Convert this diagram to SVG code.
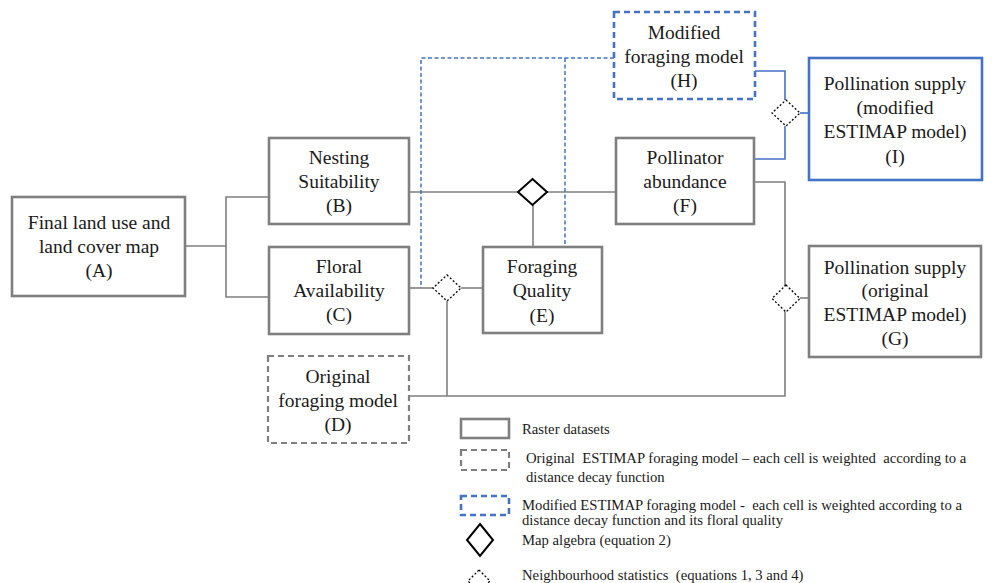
<svg xmlns="http://www.w3.org/2000/svg" width="992" height="583" viewBox="0 0 992 583" font-family="'Liberation Serif', 'Times New Roman', 'DejaVu Serif', serif">
<style>
text{font-family:'Liberation Serif','Times New Roman','DejaVu Serif',serif;fill:#1a1a1a;text-anchor:middle}
.n{font-size:19.5px}
.lg{font-size:14.7px;text-anchor:start;white-space:pre}
.box{fill:#fff;stroke:#7f7f7f;stroke-width:2.6}
.dbox{fill:#fff;stroke:#7f7f7f;stroke-width:2.2;stroke-dasharray:6 4}
.bbox{fill:#fff;stroke:#4472c4;stroke-width:2.6}
.bdbox{fill:#fff;stroke:#4472c4;stroke-width:2.6;stroke-dasharray:6 4}
.ln{fill:none;stroke:#7f7f7f;stroke-width:1.6}
.bl{fill:none;stroke:#4472c4;stroke-width:1.6}
.bd{fill:none;stroke:#4472c4;stroke-width:1.5;stroke-dasharray:4 2.5}
.ma{fill:#fff;stroke:#000;stroke-width:2}
.ns{fill:#fff;stroke:#000;stroke-width:1.3;stroke-dasharray:2 2}
</style>
<rect width="992" height="583" fill="#fff"/>
<g id="connectors">
<polyline class="ln" points="185,246 226,246"/>
<polyline class="ln" points="269,197 226,197 226,297 269,297"/>
<polyline class="ln" points="409,192 518,192"/>
<polyline class="ln" points="547,192 616,192"/>
<polyline class="ln" points="533,205 533,247"/>
<polyline class="ln" points="409,288 433,288"/>
<polyline class="ln" points="461,288 483,288"/>
<polyline class="ln" points="447,301 447,396"/>
<polyline class="ln" points="409,396 785,396 785,182 754,182"/>
<polyline class="ln" points="800,298 809,298"/>
<polyline class="bl" points="755,71 785,71 785,100"/>
<polyline class="bl" points="754,159 785,159 785,126"/>
<polyline class="bl" points="800,113 809,113"/>
<polyline class="bd" points="614,58 421,58 421,288"/>
<polyline class="bd" points="565,58 565,247"/>
<polygon class="ma" points="532.5,179 547,192 532.5,205 518,192"/>
<polygon class="ns" points="447,275 461,288 447,301 433,288"/>
<polygon class="ns" points="786,285 800,298.5 786,312 772,298.5"/>
<polygon class="ns" points="786,100 800,113 786,126 772,113"/>
</g>
<g id="A">
<rect class="box" x="12" y="197" width="173" height="99"/>
<text class="n" x="99" y="229">Final land use and</text>
<text class="n" x="99" y="253">land cover map</text>
<text class="n" x="99" y="277">(A)</text>
</g>
<g id="B">
<rect class="box" x="269" y="138" width="140" height="86"/>
<text class="n" x="339" y="164">Nesting</text>
<text class="n" x="339" y="188">Suitability</text>
<text class="n" x="339" y="212">(B)</text>
</g>
<g id="C">
<rect class="box" x="269" y="247" width="140" height="87"/>
<text class="n" x="339" y="273">Floral</text>
<text class="n" x="339" y="297">Availability</text>
<text class="n" x="339" y="321">(C)</text>
</g>
<g id="D">
<rect class="dbox" x="268" y="356" width="141" height="87"/>
<text class="n" x="338" y="383">Original</text>
<text class="n" x="338" y="407">foraging model</text>
<text class="n" x="338" y="431">(D)</text>
</g>
<g id="E">
<rect class="box" x="483" y="247" width="119" height="86"/>
<text class="n" x="542" y="273">Foraging</text>
<text class="n" x="542" y="297">Quality</text>
<text class="n" x="542" y="322">(E)</text>
</g>
<g id="F">
<rect class="box" x="616" y="138" width="138" height="86"/>
<text class="n" x="685" y="164">Pollinator</text>
<text class="n" x="685" y="188">abundance</text>
<text class="n" x="685" y="212">(F)</text>
</g>
<g id="G">
<rect class="box" x="809" y="246" width="172" height="111"/>
<text class="n" x="895" y="274">Pollination supply</text>
<text class="n" x="895" y="297">(original</text>
<text class="n" x="895" y="321">ESTIMAP model)</text>
<text class="n" x="895" y="345">(G)</text>
</g>
<g id="H">
<rect class="bdbox" x="614" y="12" width="141" height="87"/>
<text class="n" x="684" y="39">Modified</text>
<text class="n" x="684" y="63">foraging model</text>
<text class="n" x="684" y="87">(H)</text>
</g>
<g id="I">
<rect class="bbox" x="809" y="58" width="173" height="122"/>
<text class="n" x="895" y="90">Pollination supply</text>
<text class="n" x="895" y="114">(modified</text>
<text class="n" x="895" y="138">ESTIMAP model)</text>
<text class="n" x="895" y="163">(I)</text>
</g>
<g id="legend">
<rect class="box" x="461" y="419" width="48" height="19" stroke-width="2"/>
<text class="lg" x="522" y="434">Raster datasets</text>
<rect class="dbox" x="461" y="450" width="48" height="20" stroke-width="2" stroke-dasharray="5 3"/>
<text class="lg" x="526" y="463" xml:space="preserve">Original  ESTIMAP foraging model – each cell is weighted  according to a</text>
<text class="lg" x="526" y="482">distance decay function</text>
<rect class="bdbox" x="461" y="496" width="48" height="19" stroke-width="2" stroke-dasharray="5 3"/>
<text class="lg" x="522" y="510" xml:space="preserve">Modified ESTIMAP foraging model -  each cell is weighted according to a</text>
<text class="lg" x="522" y="525">distance decay function and its floral quality</text>
<polygon class="ma" points="480,524 493,540 480,556 467,540"/>
<text class="lg" x="522" y="545">Map algebra (equation 2)</text>
<polygon class="ns" points="479,570 490,581 479,592 468,581"/>
<text class="lg" x="522" y="580" xml:space="preserve">Neighbourhood statistics  (equations 1, 3 and 4)</text>
</g>
</svg>
